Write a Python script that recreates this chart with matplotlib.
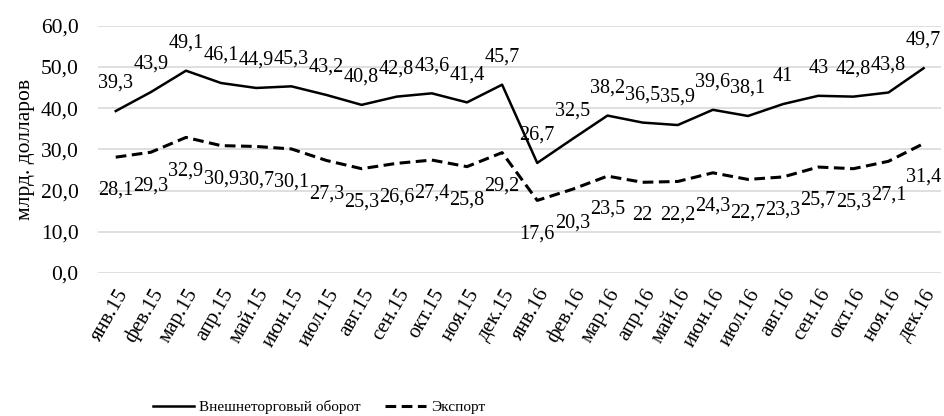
import matplotlib
matplotlib.use('Agg')
import matplotlib.pyplot as plt

plt.rcParams['font.family'] = ['Liberation Serif', 'DejaVu Serif']

# Данные
months = ['янв.15', 'фев.15', 'мар.15', 'апр.15', 'май.15', 'июн.15', 'июл.15', 'авг.15',
          'сен.15', 'окт.15', 'ноя.15', 'дек.15', 'янв.16', 'фев.16', 'мар.16', 'апр.16',
          'май.16', 'июн.16', 'июл.16', 'авг.16', 'сен.16', 'окт.16', 'ноя.16', 'дек.16']
turnover = [39.3, 43.9, 49.1, 46.1, 44.9, 45.3, 43.2, 40.8, 42.8, 43.6, 41.4, 45.7,
            26.7, 32.5, 38.2, 36.5, 35.9, 39.6, 38.1, 41, 43, 42.8, 43.8, 49.7]
export = [28.1, 29.3, 32.9, 30.9, 30.7, 30.1, 27.3, 25.3, 26.6, 27.4, 25.8, 29.2,
          17.6, 20.3, 23.5, 22, 22.2, 24.3, 22.7, 23.3, 25.7, 25.3, 27.1, 31.4]


def fmt(v):
    return f"{v:g}".replace('.', ',')


fig = plt.figure(figsize=(9.44, 4.16), dpi=100)
ax = fig.add_axes([0.104, 0.344, 0.893, 0.594])

x = list(range(len(months)))
ax.plot(x, turnover, '-', color='black', lw=1.8, label='Внешнеторговый оборот')
ax.plot(x, export, '--', color='black', lw=2.2, dashes=(3.5, 1.8), label='Экспорт')

for i in x:
    ax.annotate(fmt(turnover[i]), (i, turnover[i]), xytext=(0, 20), textcoords='offset points',
                ha='center', va='center', fontsize=14.5)
    ax.annotate(fmt(export[i]), (i, export[i]), xytext=(0, -24), textcoords='offset points',
                ha='center', va='center', fontsize=14.5)

ax.set_xlim(-0.5, len(months) - 0.5)
ax.set_ylim(0, 60)
ax.set_yticks(range(0, 61, 10))
ax.set_yticklabels([f"{t},0" for t in range(0, 61, 10)], fontsize=15.5)
ax.set_xticks(x)
ax.set_xticklabels(months, rotation=60, ha='right', rotation_mode='anchor', fontsize=15)
ax.tick_params(axis='y', length=0, pad=14)
ax.tick_params(axis='x', length=0, pad=9)
ax.grid(axis='y', color='#d9d9d9', lw=1.2)
ax.set_axisbelow(True)
for s in ax.spines.values():
    s.set_visible(False)
ax.set_ylabel('млрд. долларов', fontsize=15.5, labelpad=4)

fig.legend(loc='center', bbox_to_anchor=(0.338, 0.022), ncol=2, frameon=False,
           fontsize=11, handlelength=2.7, columnspacing=1.6, handletextpad=0.3)

fig.savefig('out.png', dpi=100)
